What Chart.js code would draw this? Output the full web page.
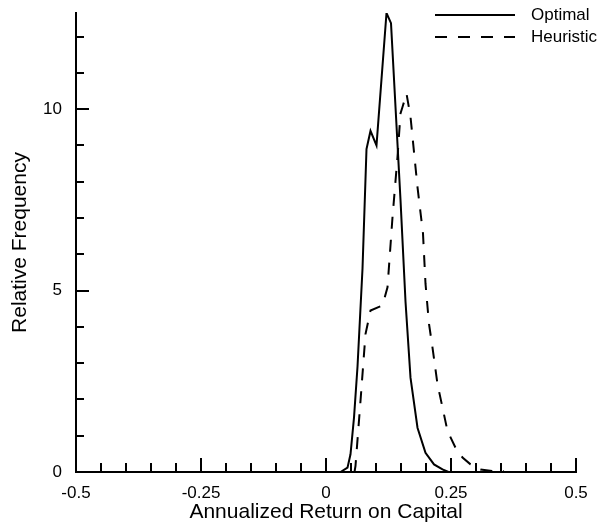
<!DOCTYPE html>
<html>
<head>
<meta charset="utf-8">
<script src="https://cdn.jsdelivr.net/npm/chart.js@4/dist/chart.umd.min.js"></script>
<style>
  html, body { margin: 0; padding: 0; background: #fff; }
  #wrap { width: 602px; height: 529px; }
</style>
</head>
<body>
<div id="wrap"><canvas id="chart"></canvas></div>
<script>
// Optimal (solid) curve
const optimalX = [0.029, 0.043, 0.049, 0.056, 0.063, 0.073, 0.081, 0.089, 0.101, 0.121, 0.130, 0.149, 0.159, 0.169, 0.183, 0.199, 0.216, 0.233, 0.245];
const optimalY = [0, 0.12, 0.49, 1.5, 2.9, 5.6, 8.9, 9.4, 9.0, 12.65, 12.37, 7.5, 4.7, 2.6, 1.22, 0.53, 0.21, 0.07, 0];

// Heuristic (dashed) curve
const heuristicX = [0.057, 0.059, 0.069, 0.079, 0.089, 0.113, 0.123, 0.133, 0.143, 0.149, 0.153, 0.161, 0.169, 0.183, 0.194, 0.199, 0.206, 0.213, 0.223, 0.233, 0.243, 0.259, 0.273, 0.289, 0.299, 0.309, 0.332, 0.356];
const heuristicY = [0, 0.17, 1.96, 3.8, 4.45, 4.59, 5.09, 7.02, 8.68, 9.88, 10.06, 10.43, 9.79, 7.85, 6.57, 5.19, 4.08, 3.43, 2.42, 1.78, 1.13, 0.67, 0.4, 0.21, 0.14, 0.07, 0.03, 0.03];

// axes
const xMajorTicks = [-0.5, -0.25, 0, 0.25, 0.5];
const xTickLabels = ['-0.5', '-0.25', '0', '0.25', '0.5'];
const xMinorTicks = [-0.45, -0.4, -0.35, -0.3, -0.2, -0.15, -0.1, -0.05, 0.05, 0.1, 0.15, 0.2, 0.3, 0.35, 0.4, 0.45];
const yMajorTicks = [0, 5, 10];
const yTickLabels = ['0', '5', '10'];
const yMinorTicks = [1, 2, 3, 4, 6, 7, 8, 9, 11, 12];

const seriesNames = ['Optimal', 'Heuristic'];

const toPoints = (xs, ys) => xs.map((x, i) => ({x: x, y: ys[i]}));

const FONT = "'Liberation Sans', Arial, sans-serif";

// inward tick marks + legend in the top right corner
const ticksAndLegend = {
  id: 'ticksAndLegend',
  afterDraw(chart) {
    const ctx = chart.ctx;
    const xs = chart.scales.x, ys = chart.scales.y;
    const area = chart.chartArea;
    ctx.save();
    ctx.strokeStyle = '#000';
    ctx.lineWidth = 2;
    ctx.beginPath();
    xMajorTicks.forEach(v => {
      const px = Math.round(xs.getPixelForValue(v));
      ctx.moveTo(px, area.bottom); ctx.lineTo(px, area.bottom - 14);
    });
    xMinorTicks.forEach(v => {
      const px = Math.round(xs.getPixelForValue(v));
      ctx.moveTo(px, area.bottom); ctx.lineTo(px, area.bottom - 9);
    });
    yMajorTicks.forEach(v => {
      const py = Math.round(ys.getPixelForValue(v));
      ctx.moveTo(area.left, py); ctx.lineTo(area.left + 13, py);
    });
    yMinorTicks.forEach(v => {
      const py = Math.round(ys.getPixelForValue(v));
      ctx.moveTo(area.left, py); ctx.lineTo(area.left + 8, py);
    });
    ctx.stroke();

    // legend
    chart.data.datasets.forEach((ds, i) => {
      const y = 15 + i * 22;
      ctx.beginPath();
      ctx.setLineDash(ds.borderDash || []);
      ctx.lineWidth = ds.borderWidth;
      ctx.strokeStyle = ds.borderColor;
      ctx.moveTo(435, y); ctx.lineTo(515, y);
      ctx.stroke();
      ctx.setLineDash([]);
      ctx.fillStyle = '#000';
      ctx.font = '17px ' + FONT;
      ctx.textBaseline = 'middle';
      ctx.textAlign = 'left';
      ctx.fillText(ds.label, 531, y);
    });
    ctx.restore();
  }
};

new Chart(document.getElementById('chart'), {
  type: 'line',
  data: {
    datasets: [
      {
        label: seriesNames[0],
        data: toPoints(optimalX, optimalY),
        borderColor: '#000',
        borderWidth: 2,
        pointRadius: 0,
        tension: 0,
        fill: false
      },
      {
        label: seriesNames[1],
        data: toPoints(heuristicX, heuristicY),
        borderColor: '#000',
        borderWidth: 2,
        borderDash: [12, 11],
        pointRadius: 0,
        tension: 0,
        fill: false
      }
    ]
  },
  options: {
    responsive: true,
    maintainAspectRatio: false,
    animation: false,
    layout: { padding: { top: 13, right: 26, left: 0, bottom: 0 } },
    plugins: {
      legend: { display: false },
      tooltip: { enabled: false }
    },
    scales: {
      x: {
        type: 'linear',
        min: -0.5,
        max: 0.5,
        afterFit: s => { s.height = 57; s.paddingLeft = 0; s.paddingRight = 0; },
        afterBuildTicks: s => { s.ticks = xMajorTicks.map(v => ({value: v})); },
        grid: { display: false },
        border: { display: true, color: '#000', width: 2 },
        ticks: {
          color: '#000',
          padding: 3,
          maxRotation: 0,
          autoSkip: false,
          font: { family: FONT, size: 17 },
          callback: (v) => xTickLabels[xMajorTicks.indexOf(v)]
        },
        title: {
          display: true,
          text: 'Annualized Return on Capital',
          color: '#000',
          font: { family: FONT, size: 21 },
          padding: { top: 0, bottom: 4 }
        }
      },
      y: {
        type: 'linear',
        min: 0,
        max: 12.65,
        afterFit: s => { s.width = 76; s.paddingTop = 0; s.paddingBottom = 0; },
        afterBuildTicks: s => { s.ticks = yMajorTicks.map(v => ({value: v})); },
        grid: { display: false },
        border: { display: true, color: '#000', width: 2 },
        ticks: {
          color: '#000',
          padding: 6,
          autoSkip: false,
          font: { family: FONT, size: 17 },
          callback: (v) => yTickLabels[yMajorTicks.indexOf(v)]
        },
        title: {
          display: true,
          text: 'Relative Frequency',
          color: '#000',
          font: { family: FONT, size: 21 },
          padding: { top: 8, bottom: 0 }
        }
      }
    }
  },
  plugins: [ticksAndLegend]
});
</script>
</body>
</html>
